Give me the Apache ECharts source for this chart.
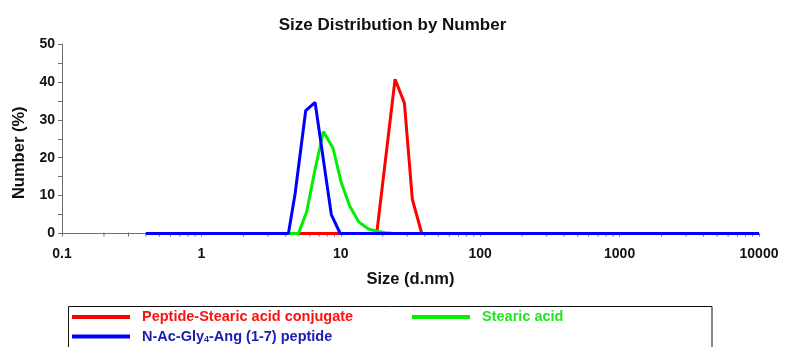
<!DOCTYPE html>
<html>
<head>
<meta charset="utf-8">
<script src="https://cdn.jsdelivr.net/npm/echarts@6/dist/echarts.min.js"></script>
<style>
html,body{margin:0;padding:0;background:#fff;}
#chart{width:785px;height:347px;}
</style>
</head>
<body>
<div id="chart"></div>
<script>
// ---- data ----
const titleText = 'Size Distribution by Number';
const xAxisName = 'Size (d.nm)';
const yAxisName = 'Number (%)';
const seriesNames = ['Peptide-Stearic acid conjugate', 'Stearic acid', 'N-Ac-Gly4-Ang (1-7) peptide'];

const redSize   = [0.4, 18.1, 24.5, 28.6, 32.6, 38.1, 10000];
const redNumber = [0,   0,    40.7, 34.4, 9.0,  0,    0];

const greenSize   = [0.4, 4.97, 5.7, 6.5,  7.5,  8.8,  10.1, 11.6, 13.5, 15.8, 18.2, 20.9, 24.3, 10000];
const greenNumber = [0,   0,    5.8, 16.5, 26.9, 22.5, 13.3, 7.2,  3.0,  1.2,  0.6,  0.2,  0,    0];

const blueSize   = [0.4, 4.21, 4.7,  5.6,  6.54, 8.55, 9.9, 10000];
const blueNumber = [0,   0,    10.5, 32.4, 34.6, 5.0,  0,   0];

const yTicks = [0, 10, 20, 30, 40, 50];
const xTickLabels = ['0.1', '1', '10', '100', '1000', '10000'];
const minorTickValues = [
  0.2,0.3,0.4,0.5,0.6,0.7,0.8,0.9,
  2,3,4,5,6,7,8,9,
  20,30,40,50,60,70,80,90,
  200,300,400,500,600,700,800,900,
  2000,3000,4000,5000,6000,7000,8000,9000
];

const pairs = (xs, ys) => xs.map((x, i) => [x, ys[i]]);

const chart = echarts.init(document.getElementById('chart'), null, {renderer: 'canvas'});
const axisGray = '#6e6e6e';
const font = 'Liberation Sans, Arial, sans-serif';

const legendText = {fontFamily: font, fontWeight: 'bold', fontSize: 14.5, lineHeight: 16, padding: [0, 0, 0, 7]};

chart.setOption({
  animation: false,
  backgroundColor: '#ffffff',
  title: {
    text: titleText, left: 'center', top: 12,
    textStyle: {fontFamily: font, fontWeight: 'bold', fontSize: 17, color: '#111'}
  },
  grid: {left: 62, right: 26, top: 44, bottom: 113.5, containLabel: false},
  xAxis: {
    type: 'log', logBase: 10, min: 0.1, max: 10000,
    name: xAxisName, nameLocation: 'middle', nameGap: 37,
    nameTextStyle: {fontFamily: font, fontWeight: 'bold', fontSize: 16.5, color: '#111'},
    axisLine: {show: true, lineStyle: {color: axisGray, width: 1}},
    axisTick: {show: true, length: 3, lineStyle: {color: axisGray}},
    splitLine: {show: false},
    axisLabel: {
      margin: 14, color: '#111', fontFamily: font, fontWeight: 'bold', fontSize: 14,
      formatter: v => {
        const s = String(Number(v.toPrecision(6)));
        return xTickLabels.indexOf(s) >= 0 ? s : '';
      }
    }
  },
  yAxis: {
    type: 'value', min: yTicks[0], max: yTicks[yTicks.length - 1], interval: 10,
    name: yAxisName, nameLocation: 'middle', nameGap: 34, nameRotate: 90,
    nameTextStyle: {fontFamily: font, fontWeight: 'bold', fontSize: 16.5, color: '#111', padding: [0, 28, 0, 0]},
    axisLine: {show: true, lineStyle: {color: axisGray, width: 1}},
    axisTick: {show: true, length: 4, lineStyle: {color: axisGray}},
    minorTick: {show: true, splitNumber: 2, length: 4, lineStyle: {color: axisGray}},
    splitLine: {show: false},
    axisLabel: {margin: 7, color: '#111', fontFamily: font, fontWeight: 'bold', fontSize: 14}
  },
  legend: [
    {
      data: [{name: seriesNames[0], textStyle: {color: '#ff1010'}}],
      left: 72, top: 309, padding: 0, icon: 'rect', itemWidth: 58, itemHeight: 4,
      textStyle: legendText, selectedMode: false
    },
    {
      data: [{name: seriesNames[1], textStyle: {color: '#22e622'}}],
      left: 412, top: 309, padding: 0, icon: 'rect', itemWidth: 58, itemHeight: 4,
      textStyle: legendText, selectedMode: false
    },
    {
      data: [{name: seriesNames[2], textStyle: {color: '#1c1cb0'}}],
      left: 72, top: 329, padding: 0, icon: 'rect', itemWidth: 58, itemHeight: 4,
      selectedMode: false,
      formatter: () => '{n|N-Ac-Gly}{s|4}{n|-Ang (1-7) peptide}',
      textStyle: {
        fontFamily: font, fontWeight: 'bold', fontSize: 14.5, color: '#1c1cb0', padding: [0, 0, 0, 7],
        rich: {
          n: {fontFamily: font, fontWeight: 'bold', fontSize: 14.5, color: '#1c1cb0', lineHeight: 16},
          s: {fontFamily: font, fontWeight: 'bold', fontSize: 9, color: '#1c1cb0', lineHeight: 16, verticalAlign: 'bottom', padding: [6, 0, 0, 0]}
        }
      }
    }
  ],
  graphic: [{
    type: 'rect', silent: true, z: -1,
    shape: {x: 68.5, y: 306.5, width: 643.5, height: 60},
    style: {fill: 'none', stroke: '#111', lineWidth: 1}
  }],
  series: [
    {
      type: 'custom', name: 'minorTicks', coordinateSystem: 'cartesian2d', silent: true, clip: false, z: 1,
      data: minorTickValues.map(v => [v, 0]),
      renderItem: (params, api) => {
        const p = api.coord([api.value(0), 0]);
        return {type: 'line', shape: {x1: p[0], y1: p[1] - 1, x2: p[0], y2: p[1] + 3},
                style: {stroke: axisGray, lineWidth: 1}};
      }
    },
    {
      name: seriesNames[0], type: 'line', data: pairs(redSize, redNumber), showSymbol: false, symbol: 'none',
      lineStyle: {color: '#ff0000', width: 3}, itemStyle: {color: '#ff0000'}, z: 2
    },
    {
      name: seriesNames[1], type: 'line', data: pairs(greenSize, greenNumber), showSymbol: false, symbol: 'none',
      lineStyle: {color: '#00f000', width: 3}, itemStyle: {color: '#00f000'}, z: 2
    },
    {
      name: seriesNames[2], type: 'line', data: pairs(blueSize, blueNumber), showSymbol: false, symbol: 'none',
      lineStyle: {color: '#0000ff', width: 3}, itemStyle: {color: '#0000ff'}, z: 3
    }
  ]
});
</script>
</body>
</html>
